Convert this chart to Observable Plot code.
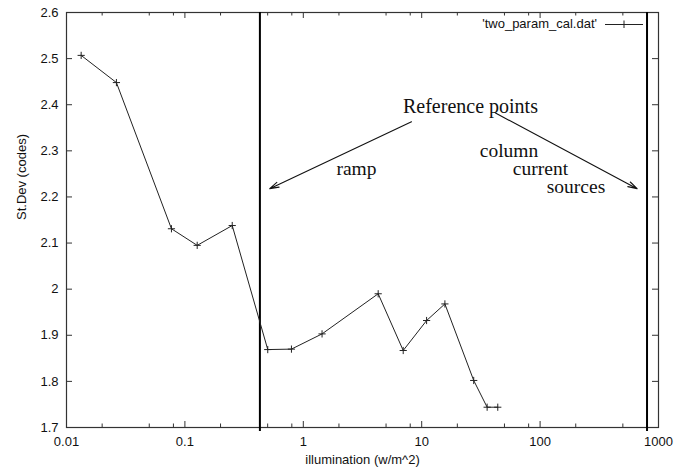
<!DOCTYPE html>
<html><head><meta charset="utf-8">
<script src="https://cdn.jsdelivr.net/npm/d3@7"></script>
<script src="https://cdn.jsdelivr.net/npm/@observablehq/plot@0.6"></script>
<style>html,body{margin:0;padding:0;background:#fff} svg{display:block}</style>
</head><body><div id="chart"></div>
<script>
// data series from 'two_param_cal.dat'
const illumination = [0.0133, 0.0264, 0.077, 0.127, 0.251, 0.501, 0.794, 1.44, 4.29, 6.98, 11.0, 15.7, 27.5, 35.7, 43.9];
const stDev = [2.507, 2.448, 2.131, 2.095, 2.138, 1.869, 1.870, 1.903, 1.990, 1.867, 1.932, 1.968, 1.802, 1.744, 1.744];
const seriesName = "'two_param_cal.dat'";

// reference points (vertical lines)
const refPoints = [0.43, 800];

// ticks
const xMajorTicks = [0.01, 0.1, 1, 10, 100, 1000];
const xTickLabels = ["0.01", "0.1", "1", "10", "100", "1000"];
const xMinorTicks = [0.02, 0.05, 0.08, 0.2, 0.5, 0.8, 2, 5, 8, 20, 50, 80, 200, 500, 800];
const yTicks = [1.7, 1.8, 1.9, 2.0, 2.1, 2.2, 2.3, 2.4, 2.5, 2.6];
const yTickLabels = ["1.7", "1.8", "1.9", "2", "2.1", "2.2", "2.3", "2.4", "2.5", "2.6"];
const xLabel = "illumination (w/m^2)";
const yLabel = "St.Dev (codes)";

// annotations
const noteTexts = ["Reference points", "ramp", "column", "current", "sources"];
const noteX = [25.8, 2.81, 54.6, 100.7, 201];
const noteY = [2.395, 2.262, 2.301, 2.262, 2.222];
const noteSize = [20, 19.5, 19.5, 19.5, 19.5];
const arrowX1 = [8.2, 42];
const arrowY1 = [2.363, 2.382];
const arrowX2 = [0.52, 660];
const arrowY2 = [2.218, 2.218];

const W = 684, H = 468, mL = 66, mR = 26, mT = 12, mB = 41;
const innerW = W - mL - mR, innerH = H - mT - mB;
const font = "'Liberation Sans', Arial, Helvetica, sans-serif";
const serif = "'Liberation Serif', 'Times New Roman', serif";

const data = illumination.map((x, i) => ({x, y: stDev[i]}));
const notes = noteTexts.map((t, i) => ({t, x: noteX[i], y: noteY[i], s: noteSize[i]}));
const arrows = arrowX1.map((x1, i) => ({x1, y1: arrowY1[i], x2: arrowX2[i], y2: arrowY2[i]}));

const plus = {draw(ctx, size) {
  const r = Math.sqrt(size / Math.PI);
  ctx.moveTo(-r, 0); ctx.lineTo(r, 0);
  ctx.moveTo(0, -r); ctx.lineTo(0, r);
}};

const frameColor = "#333";

const chart = Plot.plot({
  width: W, height: H,
  marginLeft: mL, marginRight: mR, marginTop: mT, marginBottom: mB,
  style: {fontFamily: font, fontSize: "13px", color: "#111", background: "#fff"},
  x: {type: "log", domain: [0.01, 1000]},
  y: {domain: [1.7, 2.6]},
  marks: [
    Plot.tickX(xMajorTicks, {x: d => d, insetTop: innerH - 6, stroke: frameColor}),
    Plot.tickX(xMajorTicks, {x: d => d, insetBottom: innerH - 6, stroke: frameColor}),
    Plot.tickX(xMinorTicks, {x: d => d, insetTop: innerH - 3.5, stroke: frameColor}),
    Plot.tickX(xMinorTicks, {x: d => d, insetBottom: innerH - 3.5, stroke: frameColor}),
    Plot.tickY(yTicks, {y: d => d, insetRight: innerW - 6, stroke: frameColor}),
    Plot.tickY(yTicks, {y: d => d, insetLeft: innerW - 6, stroke: frameColor}),
    Plot.frame({stroke: frameColor, strokeWidth: 1.2}),
    Plot.axisX({ticks: xMajorTicks, tickSize: 0, tickPadding: 9, label: null,
      tickFormat: d => xTickLabels[xMajorTicks.indexOf(d)]}),
    Plot.axisY({ticks: yTicks, tickSize: 0, tickPadding: 8, label: null,
      tickFormat: d => yTickLabels[yTicks.indexOf(d)]}),
    Plot.ruleX(refPoints, {x: d => d, stroke: "#000", strokeWidth: 2, insetBottom: -4}),
    Plot.line(data, {x: "x", y: "y", stroke: "#222", strokeWidth: 1}),
    Plot.dot(data, {x: "x", y: "y", symbol: plus, r: 3.6, stroke: "#222", fill: "none", strokeWidth: 1}),
    Plot.arrow(arrows, {x1: "x1", y1: "y1", x2: "x2", y2: "y2", stroke: "#111", strokeWidth: 1.1, headLength: 13, headAngle: 32}),
    ...notes.map(n => Plot.text([n], {x: "x", y: "y", text: "t", fontFamily: serif, fontSize: n.s, fill: "#111"})),
    Plot.text([xLabel], {frameAnchor: "bottom", dy: 36, lineAnchor: "bottom", fontSize: 13}),
    Plot.text([yLabel], {frameAnchor: "left", rotate: -90, dx: -45, fontSize: 13})
  ]
});

// key (legend) in the top-right corner
const svg = d3.select(chart);
const right = W - mR, ly = mT + 12;
const g = svg.append("g").attr("font-family", font).attr("font-size", 13).attr("fill", "#111");
g.append("text").attr("x", right - 61).attr("y", ly).attr("dy", "0.32em").attr("text-anchor", "end").text(seriesName);
g.append("line").attr("x1", right - 53).attr("x2", right - 15).attr("y1", ly + 0.5).attr("y2", ly + 0.5).attr("stroke", "#222");
g.append("line").attr("x1", right - 34).attr("x2", right - 34).attr("y1", ly - 3.5).attr("y2", ly + 4).attr("stroke", "#222");

document.getElementById("chart").appendChild(chart);
</script>
</body></html>
